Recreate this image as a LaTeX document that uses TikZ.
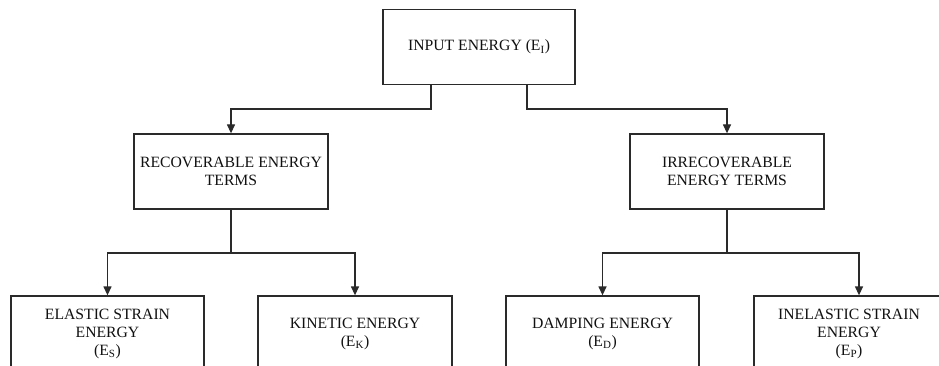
\documentclass[tikz,border=0pt]{standalone}
\usepackage{fontspec}
\setmainfont{Liberation Serif}
\usetikzlibrary{arrows.meta}
\definecolor{Ink}{HTML}{111111}
\definecolor{Wire}{HTML}{2A2A2A}

\begin{document}
\begin{tikzpicture}[x=1pt,y=1pt,every node/.style={text=Ink},
  box/.style={draw=Wire,line width=1.3pt,fill=white,minimum width=192pt,minimum height=75pt,
    inner sep=0pt,align=center,font=\fontsize{15.7}{18}\selectfont},
  wire/.style={draw=Wire,line width=1.3pt},
  feed/.style={wire,-{Triangle[length=9pt,width=8pt]}}]
\useasboundingbox (0,0) rectangle (939,-366);
\fill[white] (0,0) rectangle (939,-366);
\clip (0,0) rectangle (939,-366);
% boxes
\node[box] (input) at (479,-47) {INPUT ENERGY (E\textsubscript{I})};
\node[box,minimum width=194pt] (rec) at (231,-171.5) {RECOVERABLE ENERGY\\TERMS};
\node[box,minimum width=194pt] (irr) at (727,-171.5) {IRRECOVERABLE\\ENERGY TERMS};
\node[box,minimum width=193pt] (elastic) at (107.5,-333.5) {ELASTIC STRAIN\\ENERGY\\(E\textsubscript{S})};
\node[box,minimum width=194pt] (kinetic) at (355,-333.5) {KINETIC ENERGY\\(E\textsubscript{K})};
\node[box,minimum width=193pt] (damping) at (602.5,-333.5) {DAMPING ENERGY\\(E\textsubscript{D})};
\node[box,minimum width=190pt] (inelastic) at (849,-333.5) {INELASTIC STRAIN\\ENERGY\\(E\textsubscript{P})};
% junctions
\coordinate (jl) at (rec.south |- 0,-253);
\coordinate (jr) at (irr.south |- 0,-253);
% connectors
\draw[feed] ([xshift=-48pt]input.south) |- ++(0,-24) -| (rec.north);
\draw[feed] ([xshift=48pt]input.south) |- ++(0,-24) -| (irr.north);
\draw[wire] (rec.south) -- (jl);
\draw[feed] (jl) -| (elastic.north);
\draw[feed] (jl) -| (kinetic.north);
\draw[wire] (irr.south) -- (jr);
\draw[feed] (jr) -| (damping.north);
\draw[feed] (jr) -| ([xshift=10pt]inelastic.north);
\end{tikzpicture}
\end{document}
